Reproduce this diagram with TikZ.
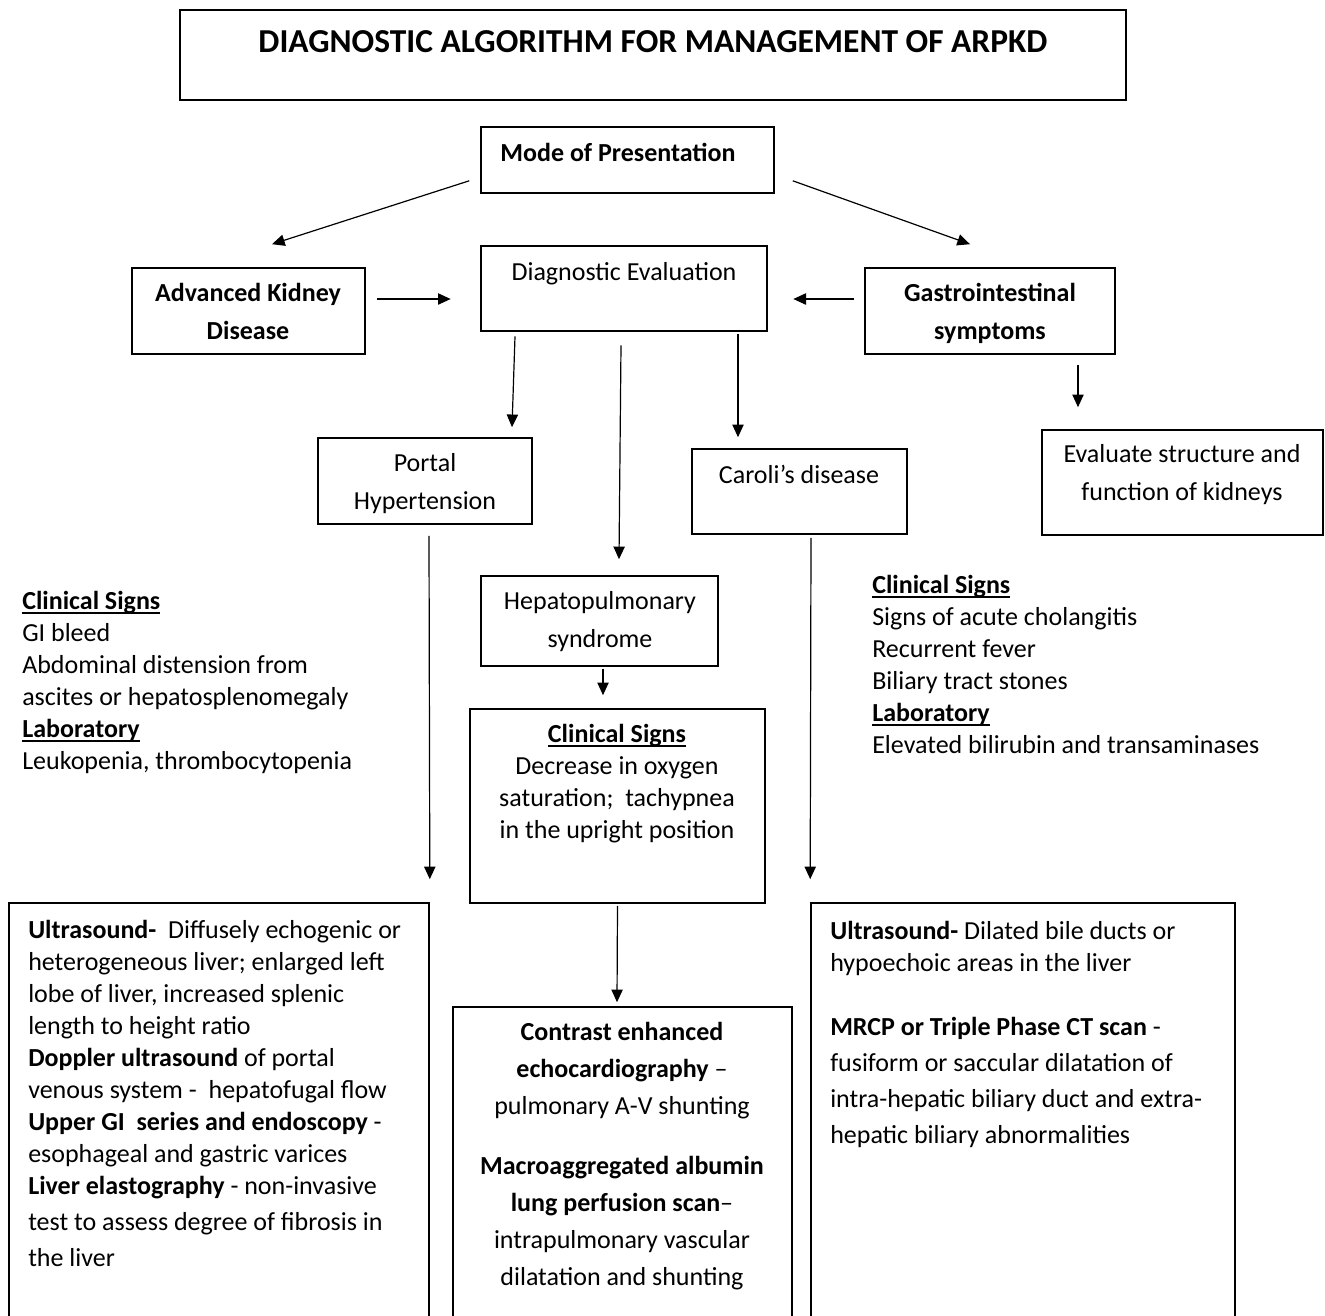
\documentclass[tikz,border=0pt]{standalone}
\usepackage{fontspec}
\setmainfont{Carlito}
\usetikzlibrary{calc,arrows.meta}
\newdimen\pxu \pxu=0.75pt
\newcommand\myuline[1]{\setbox0\hbox{#1}\rlap{\vrule height -2.2pt depth 3.5pt width \wd0}\box0}
\tikzset{
  box/.style={draw, line width=1.2pt, inner sep=0pt, rectangle},
  arr/.style={-{Triangle[length=9.5pt,width=8.5pt]}, line width=0.9pt},
  txt/.style={inner sep=0pt, font=\fontsize{19.5}{24}\selectfont, align=center, anchor=base},
  ltxt/.style={txt, align=left, anchor=base west},
}
\begin{document}
\begin{tikzpicture}[x=0.75pt,y=-0.75pt]
\useasboundingbox (0,0) rectangle (1325,1315);
% boxes
\node[box, minimum width=946\pxu, minimum height=90\pxu] (title) at (653,55) {};
\node[box, minimum width=293\pxu, minimum height=66\pxu] (mode) at (627.5,160) {};
\node[box, minimum width=233\pxu, minimum height=86\pxu] (akd) at (248.5,311) {};
\node[box, line width=2pt, minimum width=286\pxu, minimum height=85\pxu] (diag) at (624,288.5) {};
\node[box, minimum width=250\pxu, minimum height=86\pxu] (gi) at (990,311) {};
\node[box, minimum width=281\pxu, minimum height=105\pxu] (evalk) at (1182.5,482.5) {};
\node[box, minimum width=214\pxu, minimum height=86\pxu] (portal) at (425,481) {};
\node[box, minimum width=215\pxu, minimum height=85\pxu] (caroli) at (799.5,491.5) {};
\node[box, minimum width=237\pxu, minimum height=90\pxu] (hps) at (599.5,621) {};
\node[box, minimum width=295\pxu, minimum height=194\pxu] (csbox) at (617.5,806) {};
\begin{scope}
\clip (0,0) rectangle (1325,1315);
\node[box, minimum width=339\pxu, minimum height=333\pxu] (contrast) at (622.5,1173.5) {};
\node[box, minimum width=420\pxu, minimum height=437\pxu] (leftbox) at (219,1121.5) {};
\node[box, minimum width=424\pxu, minimum height=437\pxu] (rightbox) at (1023,1121.5) {};
\end{scope}
% texts (multi-line nodes are placed by the baseline of their last line)
\node[txt, font=\fontsize{25.1}{30}\selectfont\bfseries] (titlet) at (653,52) {DIAGNOSTIC ALGORITHM FOR MANAGEMENT OF ARPKD};
\node[txt, font=\fontsize{19.5}{24}\selectfont\bfseries] (modet) at (618,161) {Mode of Presentation};
\node[txt, font=\fontsize{19.5}{24}\selectfont\bfseries] (akdt) at (248,339) {Advanced Kidney\\[4pt] Disease};
\node[txt] (diagt) at (624,280) {Diagnostic Evaluation};
\node[txt, font=\fontsize{19.5}{24}\selectfont\bfseries] (git) at (990,339) {Gastrointestinal\\[4pt] symptoms};
\node[txt] (evalkt) at (1182,500) {Evaluate structure and\\[4pt] function of kidneys};
\node[txt] (portalt) at (425,509) {Portal\\[4pt] Hypertension};
\node[txt] (carolit) at (799,483) {Caroli’s disease};
\node[txt] (hpst) at (600,647) {Hepatopulmonary\\[4pt] syndrome};
\node[txt] (cst) at (617,838) {\myuline{\textbf{Clinical Signs}}\\ Decrease in oxygen\\ saturation;\ \ tachypnea\\ in the upright position};
\node[ltxt] (leftt) at (22,769) {\myuline{\textbf{Clinical Signs}}\\ GI bleed\\ Abdominal distension from\\ ascites or hepatosplenomegaly\\ \myuline{\textbf{Laboratory}}\\ Leukopenia, thrombocytopenia};
\node[ltxt] (rightt) at (872,753) {\myuline{\textbf{Clinical Signs}}\\ Signs of acute cholangitis\\ Recurrent fever\\ Biliary tract stones\\ \myuline{\textbf{Laboratory}}\\ Elevated bilirubin and transaminases};
\node[ltxt] (leftboxt) at (28,1266) {\textbf{Ultrasound-}\ \ Diffusely echogenic or\\ heterogeneous liver; enlarged left\\ lobe of liver, increased splenic\\ length to height ratio\\ \textbf{Doppler ultrasound} of portal\\ venous system -\ \ hepatofugal flow\\ \textbf{Upper GI\ \ series and endoscopy} -\\ esophageal and gastric varices\\ \textbf{Liver elastography} - non-invasive\\[3pt] test to assess degree of fibrosis in\\[3pt] the liver};
\node[ltxt] (rightboxt) at (830,1143) {\textbf{Ultrasound-} Dilated bile ducts or\\ hypoechoic areas in the liver\\[24pt] \textbf{MRCP or Triple Phase CT scan} -\\[3pt] fusiform or saccular dilatation of\\[3pt] intra-hepatic biliary duct and extra-\\[3pt] hepatic biliary abnormalities};
\node[txt] (contrastt) at (622,1285) {\textbf{Contrast enhanced}\\[3.75pt] \textbf{echocardiography} --\\[3.75pt] pulmonary A-V shunting\\[21pt] \textbf{Macroaggregated albumin}\\[3.75pt] \textbf{lung perfusion scan}--\\[3.75pt] intrapulmonary vascular\\[3.75pt] dilatation and shunting};
% connectors
\draw[arr] ($(mode.south west)+(-11,-13)$) -- ($(akd.north)+(23.5,-23)$);
\draw[arr] ($(mode.south east)+(18,-13)$) -- ($(gi.north)+(-20,-23)$);
\draw[arr] ($(akd.east)+(11,-12)$) -- ($(diag.west)+(-29,10.5)$);
\draw[arr] ($(gi.west)+(-10,-12)$) -- ($(diag.east)+(25,10.5)$);
\draw[arr] ($(gi.south)+(88,10)$) -- ($(evalk.north)+(-104.5,-22)$);
\draw[arr] ($(diag.south)+(-109,4)$) -- ($(portal.north)+(87,-10)$);
\draw[arr] ($(diag.south)+(-3,13)$) -- ($(hps.north)+(19.5,-16)$);
\draw[arr] ($(diag.south)+(114,2)$) -- ($(caroli.north)+(-61.5,-11)$);
\draw[arr] ($(portal.south)+(4,11)$) -- ($(leftbox.north east)+(0,-23)$);
\draw[arr] ($(caroli.south)+(11.5,3)$) -- ($(rightbox.north west)+(0,-23)$);
\draw[arr] ($(hps.south)+(3.5,2)$) -- ($(csbox.north)+(-14.5,-13)$);
\draw[arr] ($(csbox.south)+(0,2)$) -- ($(contrast.north)+(-5.5,-4)$);
\end{tikzpicture}
\end{document}
